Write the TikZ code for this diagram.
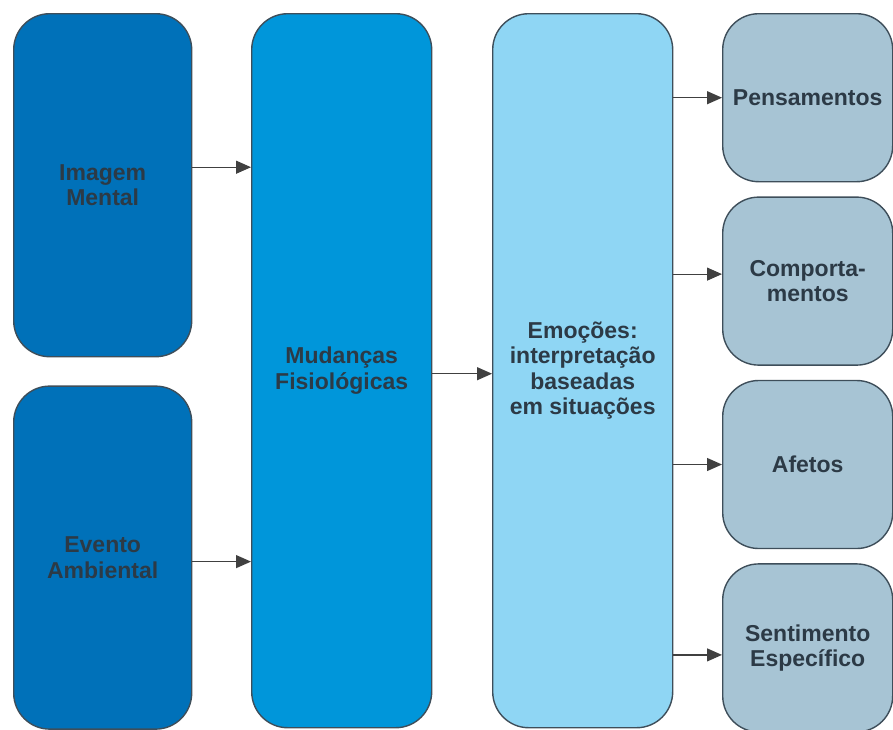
\documentclass[tikz,border=0pt]{standalone}
\usepackage{fontspec}
\setmainfont{Liberation Sans}
\usetikzlibrary{arrows.meta,positioning}

\definecolor{darkblue}{RGB}{0,113,185}
\definecolor{midblue}{RGB}{0,150,218}
\definecolor{lightblue}{RGB}{143,214,244}
\definecolor{greyblue}{RGB}{167,196,212}
\definecolor{boxline}{RGB}{62,78,90}
\definecolor{boxtext}{RGB}{44,58,70}

\begin{document}
\begin{tikzpicture}[x=1pt,y=-1pt,->,>={Triangle[length=15pt,width=13pt]},
  line width=1.2pt,draw=black!75,
  box/.style={draw=boxline,line width=1.4pt,rounded corners=36pt,text=boxtext,
    font=\fontsize{23}{25.5}\selectfont\bfseries,align=center,inner sep=0pt,anchor=north west},
  srcbox/.style={box,fill=darkblue,minimum width=178pt,minimum height=343pt},
  tallbox/.style={box,minimum width=180pt,minimum height=714pt},
  outbox/.style={box,fill=greyblue,minimum width=170pt,minimum height=168pt}]

  \useasboundingbox (0,0) rectangle (893,729);

  \node[srcbox] (im) at (13,13) {Imagem\\Mental};
  \node[srcbox] (ev) [below=28pt of im] {Evento\\Ambiental};
  \node[tallbox,fill=midblue] (mf) at (251,13) {Mudanças\\Fisiológicas};
  \node[tallbox,fill=lightblue] (em) at (492,13) {Emoções:\\interpretação\\baseadas\\em situações};
  \node[outbox] (pe) at (722,13) {Pensamentos};
  \node[outbox] (co) [below=14pt of pe] {Comporta-\\mentos};
  \node[outbox] (af) [below=14pt of co] {Afetos};
  \node[outbox] (se) [below=14pt of af] {Sentimento\\Específico};

  \draw ([yshift=18pt]im.east) -- ([yshift=18pt]im.east -| mf.west);
  \draw ([yshift=-4pt]ev.east) -- ([yshift=-4pt]ev.east -| mf.west);
  \draw ([yshift=-3pt]mf.east) -- ([yshift=-3pt]mf.east -| em.west);
  \draw (em.east |- pe.west) -- (pe.west);
  \draw ([yshift=7pt]em.east |- co.west) -- ([yshift=7pt]co.west);
  \draw (em.east |- af.west) -- (af.west);
  \draw ([yshift=-7pt]em.east |- se.west) -- ([yshift=-7pt]se.west);

\end{tikzpicture}
\end{document}
